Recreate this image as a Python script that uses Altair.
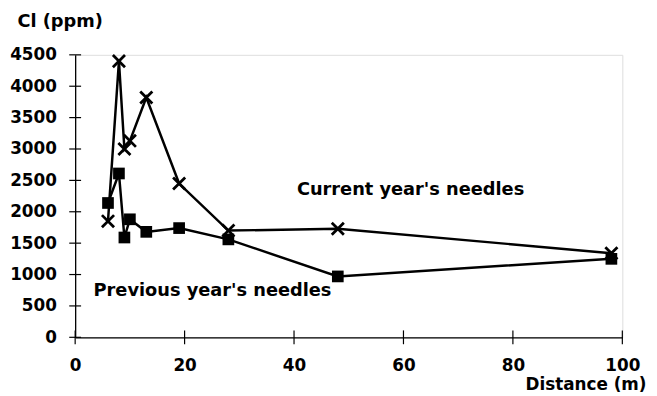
import altair as alt
import pandas as pd

# ---- data ----
dist_current = [6, 8, 9, 10, 13, 19, 28, 48, 98]
cl_current = [1850, 4400, 3000, 3130, 3820, 2450, 1700, 1730, 1340]
dist_previous = [6, 8, 9, 10, 13, 19, 28, 48, 98]
cl_previous = [2140, 2610, 1590, 1880, 1680, 1740, 1560, 970, 1250]

y_ticks = [0, 500, 1000, 1500, 2000, 2500, 3000, 3500, 4000, 4500]
x_ticks = [0, 20, 40, 60, 80, 100]

label_texts = ["Current year's needles", "Previous year's needles"]
label_x = [61.3, 25.1]
label_y = [2350, 730]

FONT = "DejaVu Sans"
W, H = 554, 286

cur = pd.DataFrame({"d": dist_current, "cl": cl_current, "i": range(len(dist_current))})
prev = pd.DataFrame({"d": dist_previous, "cl": cl_previous, "i": range(len(dist_previous))})
labels = pd.DataFrame({"t": label_texts, "x": label_x, "y": label_y})
yt = pd.DataFrame({"v": y_ticks})
xt = pd.DataFrame({"v": x_ticks})

xs = alt.Scale(domain=[0, 100], nice=False, zero=False)
ys = alt.Scale(domain=[0, 4500], nice=False, zero=False)

xaxis = alt.Axis(
    values=x_ticks, format="d", ticks=False, grid=False, domainColor="black",
    domainWidth=1.3, labelFlush=False, labelOverlap=False,
    labelFont=FONT, labelFontWeight="bold", labelFontSize=17, labelColor="black",
    labelPadding=21, title="Distance (m)", titleFont=FONT, titleFontWeight="bold",
    titleFontSize=17, titleColor="black", titleAlign="right", titleAnchor="end",
    titleX=578, titleY=48, titleBaseline="middle",
)
yaxis = alt.Axis(
    values=y_ticks, format="d", ticks=False, grid=False, domainColor="black",
    domainWidth=1.3, labelOverlap=False, labelFlush=False, labelBound=False,
    labelFont=FONT, labelFontWeight="bold", labelFontSize=17, labelColor="black",
    labelPadding=19, title="Cl (ppm)", titleFont=FONT, titleFontWeight="bold",
    titleFontSize=18, titleColor="black", titleAngle=0, titleAlign="left",
    titleX=-59, titleY=-34, titleBaseline="middle",
)

line_cur = alt.Chart(cur).mark_line(color="black", strokeWidth=2.5).encode(
    x=alt.X("d:Q", scale=xs, axis=xaxis), y=alt.Y("cl:Q", scale=ys, axis=yaxis),
    order="i:Q")
pts_cur = alt.Chart(cur).mark_point(
    shape="M-1,-1L1,1M-1,1L1,-1", filled=False, color="black", strokeWidth=2.8,
    size=150, opacity=1).encode(
    x=alt.X("d:Q", scale=xs, axis=xaxis), y=alt.Y("cl:Q", scale=ys, axis=yaxis))
line_prev = alt.Chart(prev).mark_line(color="black", strokeWidth=2.5).encode(
    x=alt.X("d:Q", scale=xs, axis=xaxis), y=alt.Y("cl:Q", scale=ys, axis=yaxis),
    order="i:Q")
pts_prev = alt.Chart(prev).mark_point(
    shape="square", filled=True, color="black", size=140, opacity=1).encode(
    x=alt.X("d:Q", scale=xs, axis=xaxis), y=alt.Y("cl:Q", scale=ys, axis=yaxis))

ytick_rules = alt.Chart(yt).mark_rule(color="black", strokeWidth=1.2).encode(
    y=alt.Y("v:Q", scale=ys, axis=yaxis), x=alt.value(-6), x2=alt.value(6))
xtick_rules = alt.Chart(xt).mark_rule(color="black", strokeWidth=1.2).encode(
    x=alt.X("v:Q", scale=xs, axis=xaxis), y=alt.value(H - 7), y2=alt.value(H + 7))

texts = alt.Chart(labels).mark_text(
    font=FONT, fontWeight="bold", fontSize=18, color="black", align="center",
    baseline="middle").encode(
    x=alt.X("x:Q", scale=xs, axis=xaxis), y=alt.Y("y:Q", scale=ys, axis=yaxis),
    text="t:N")

chart = alt.layer(
    line_prev, line_cur, pts_prev, pts_cur, ytick_rules, xtick_rules, texts
).properties(
    width=W, height=H,
    autosize=alt.AutoSizeParams(type="none"),
    padding={"left": 68, "top": 45, "right": 27, "bottom": 57},
).configure_view(stroke=None).configure_axis(
    labelOverlap=False
).configure(background="white")

chart.save("out.html", embed_options={"renderer": "svg", "actions": False})
